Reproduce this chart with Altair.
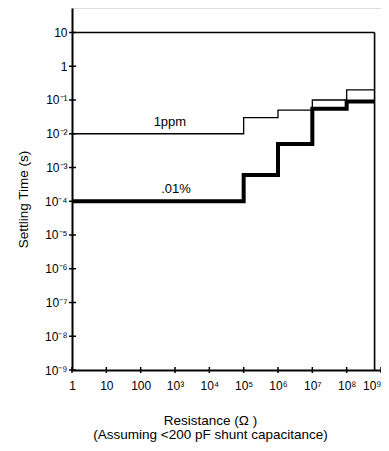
import altair as alt
import pandas as pd

# ---- data ----
res_steps = [1, 1e5, 1e6, 1e7, 1e8, 6.5e8]          # resistance (ohm) step edges
ppm_time = [1e-2, 3e-2, 5e-2, 1e-1, 2e-1, 2e-1]     # 1ppm settling time (s)
pct_time = [1e-4, 6e-4, 5e-3, 5.5e-2, 9e-2, 9e-2]   # .01% settling time (s)

box_top = 10          # top of enclosing box (s)
box_right = 6.5e8     # right edge of enclosing box (ohm)

x_ticks = [1, 10, 100, 1e3, 1e4, 1e5, 1e6, 1e7, 1e8, 1e9]
x_labels = ["1", "10", "100", "10³", "10⁴", "10⁵", "10⁶", "10⁷", "10⁸", "10⁹"]
y_ticks = [1e-9, 1e-8, 1e-7, 1e-6, 1e-5, 1e-4, 1e-3, 1e-2, 1e-1, 1, 10]
y_labels = ["10⁻⁹", "10⁻⁸", "10⁻⁷", "10⁻⁶", "10⁻⁵", "10⁻⁴", "10⁻³", "10⁻²", "10⁻¹", "1", "10"]

label_texts = ["1ppm", ".01%"]
label_x = [710, 1070]
label_y = [1e-2, 1e-4]

FONT = "Liberation Sans, Arial, sans-serif"
W, H = 309, 362

steps = pd.DataFrame({"R": res_steps, "ppm": ppm_time, "pct": pct_time})
xt = pd.DataFrame({"v": x_ticks})
yt = pd.DataFrame({"v": y_ticks})
labels = pd.DataFrame({"t": label_texts, "x": label_x, "y": label_y})
box = pd.DataFrame({"x1": [1], "x2": [box_right], "ytop": [box_top], "ybot": [1e-9]})

x_expr = "[" + ",".join("'%s'" % s for s in x_labels) + "][round(log(datum.value)/LN10)]"
y_expr = "[" + ",".join("'%s'" % s for s in y_labels) + "][round(log(datum.value)/LN10)+9]"

xscale = alt.Scale(type="log", domain=[1, 1e9], nice=False)
yscale = alt.Scale(type="log", domain=[1e-9, 53.2], nice=False)

xaxis = alt.Axis(
    values=x_ticks, labelExpr=x_expr, ticks=False, grid=False,
    domainColor="black", domainWidth=2, labelColor="black", labelFont=FONT,
    labelFontSize=12, labelPadding=10, labelFlush=False,
    labelAlign={"condition": {"test": "datum.value >= 1e9", "value": "right"}, "value": "center"},
    title=["Resistance (Ω  )", "(Assuming <200 pF shunt capacitance)"],
    titleFont=FONT, titleFontSize=13.5, titleFontWeight="normal", titleColor="black",
    titleX=138, titleY=43, titleAlign="center", titleBaseline="top", titleLineHeight=14,
)
yaxis = alt.Axis(
    values=y_ticks, labelExpr=y_expr, ticks=False, grid=False,
    domainColor="black", domainWidth=2, labelColor="black", labelFont=FONT,
    labelFontSize=12, labelPadding=5, labelFlush=False,
    title="Settling Time (s)", titleFont=FONT, titleFontSize=13.5,
    titleFontWeight="normal", titleColor="black",
    titleX=-49, titleY=191, titleAlign="center", titleBaseline="middle", titleAngle=270,
)

ppm = alt.Chart(steps).mark_line(interpolate="step-after", color="black", strokeWidth=1.3).encode(
    x=alt.X("R:Q", scale=xscale, axis=xaxis), y=alt.Y("ppm:Q", scale=yscale, axis=yaxis)
)
pct = alt.Chart(steps).mark_line(interpolate="step-after", color="black", strokeWidth=4).encode(
    x=alt.X("R:Q", scale=xscale), y=alt.Y("pct:Q", scale=yscale)
)
box_h = alt.Chart(box).mark_rule(color="black", strokeWidth=1.6).encode(
    x=alt.X("x1:Q", scale=xscale), x2="x2:Q", y=alt.Y("ytop:Q", scale=yscale)
)
box_v = alt.Chart(box).mark_rule(color="black", strokeWidth=1.6).encode(
    x=alt.X("x2:Q", scale=xscale), y=alt.Y("ybot:Q", scale=yscale), y2="ytop:Q"
)
yticks = alt.Chart(yt).mark_rule(color="black", strokeWidth=1.5).encode(
    y=alt.Y("v:Q", scale=yscale), x=alt.value(-3), x2=alt.value(4)
)
xticks = alt.Chart(xt).mark_rule(color="black", strokeWidth=1.5).encode(
    x=alt.X("v:Q", scale=xscale), y=alt.value(H - 3), y2=alt.value(H + 3)
)
txt = alt.Chart(labels).mark_text(font=FONT, fontSize=13, color="black", baseline="alphabetic", dy=-8).encode(
    x=alt.X("x:Q", scale=xscale), y=alt.Y("y:Q", scale=yscale), text="t:N"
)

chart = alt.layer(ppm, pct, box_h, box_v, yticks, xticks, txt).properties(
    width=W, height=H,
    autosize=alt.AutoSizeParams(type="none"),
    padding={"left": 64, "top": 0, "right": 0, "bottom": 73},
).configure_view(stroke=None).configure(background="white")

chart.save("out.html", embed_options={"renderer": "svg", "actions": False})
